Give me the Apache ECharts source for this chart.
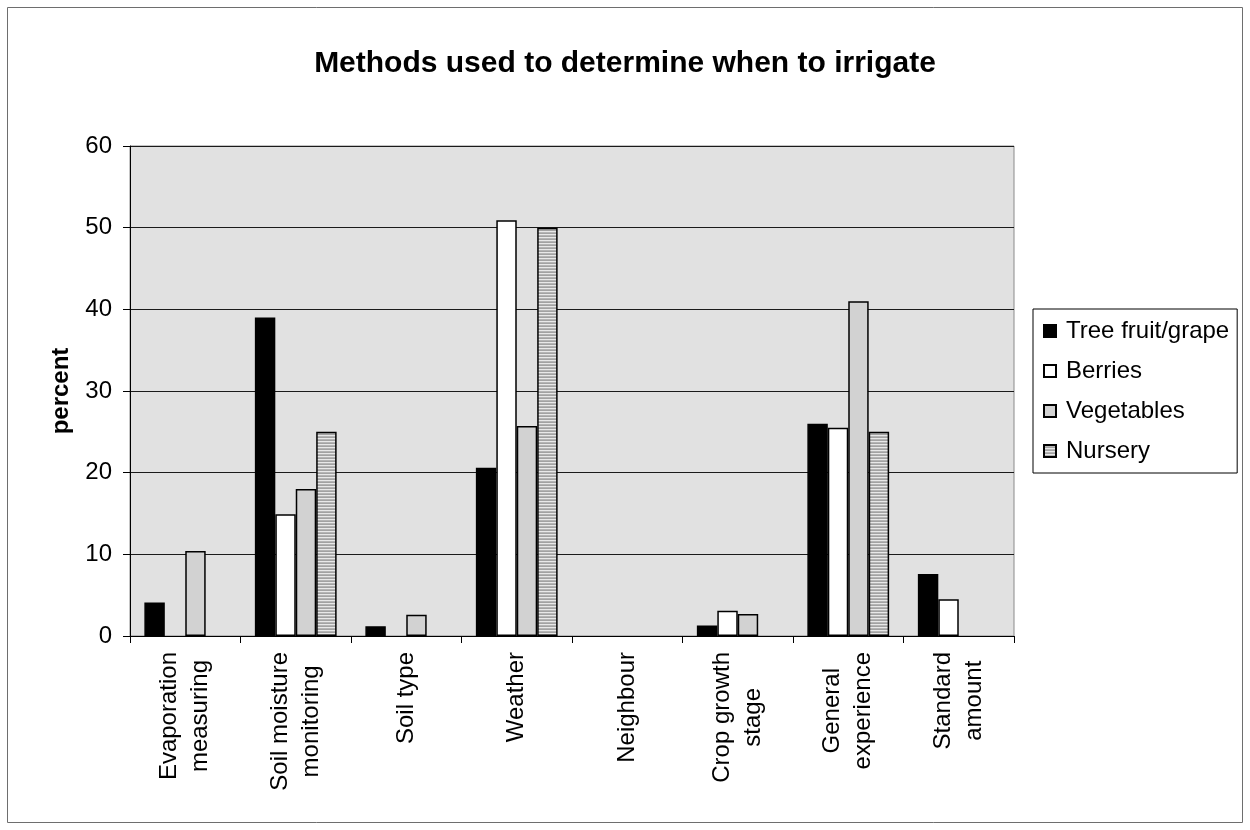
<!DOCTYPE html>
<html>
<head>
<meta charset="utf-8">
<script src="https://cdn.jsdelivr.net/npm/echarts@6/dist/echarts.min.js"></script>
<style>
  html, body { margin: 0; padding: 0; background: #fff; }
  #chart { width: 1250px; height: 830px; }
</style>
</head>
<body>
<div id="chart"></div>
<script>
// Survey results: share of growers (percent) using each method to decide when to irrigate
const categories = [
  'Evaporation\nmeasuring',
  'Soil moisture\nmonitoring',
  'Soil type',
  'Weather',
  'Neighbour',
  'Crop growth\nstage',
  'General\nexperience',
  'Standard\namount'
];
const seriesNames = ['Tree fruit/grape', 'Berries', 'Vegetables', 'Nursery'];
const treeFruit  = [4.1, 39.0, 1.2, 20.6, 0, 1.3, 26.0, 7.6];
const berries    = [0, 14.9, 0, 50.9, 0, 3.1, 25.5, 4.5];
const vegetables = [10.4, 18.0, 2.6, 25.7, 0, 2.7, 41.0, 0];
const nursery    = [0, 25.0, 0, 50.0, 0, 0, 25.0, 0];
const yTicks = { min: 0, max: 60, interval: 10 };

const FONT = '"Liberation Sans", Arial, sans-serif';

// Horizontal hatch fill for the nursery bars
function stripePattern() {
  const c = document.createElement('canvas');
  c.width = 4; c.height = 3;
  const g = c.getContext('2d');
  g.fillStyle = '#e8e8e8'; g.fillRect(0, 0, 4, 1);
  g.fillStyle = '#b4b4b4'; g.fillRect(0, 1, 4, 1);
  g.fillStyle = '#a2a2a2'; g.fillRect(0, 2, 4, 1);
  return { image: c, repeat: 'repeat' };
}

const fills = ['#000000', '#ffffff', '#d2d2d2', stripePattern()];
const values = [treeFruit, berries, vegetables, nursery];

// Zero values get no outline so nothing is drawn for them
const toBarData = (arr) => arr.map(v => v === 0 ? { value: 0, itemStyle: { borderWidth: 0, opacity: 0 } } : v);

const chart = echarts.init(document.getElementById('chart'), null, { renderer: 'canvas' });

chart.setOption({
  animation: false,
  backgroundColor: '#ffffff',
  textStyle: { fontFamily: FONT },
  title: {
    text: 'Methods used to determine when to irrigate',
    left: 'center',
    top: 44,
    textStyle: { fontFamily: FONT, fontSize: 30, fontWeight: 'bold', color: '#000' }
  },
  graphic: [{
    type: 'rect',
    shape: { x: 7.5, y: 7.5, width: 1235, height: 815 },
    style: { fill: 'none', stroke: '#6e6e6e', lineWidth: 1 },
    silent: true,
    z: -1
  }],
  legend: {
    orient: 'vertical',
    left: 1033,
    top: 309,
    data: seriesNames,
    icon: 'rect',
    itemWidth: 12,
    itemHeight: 12,
    itemGap: 16,
    padding: [10, 8, 10, 10],
    borderColor: '#000',
    borderWidth: 1,
    backgroundColor: '#fff',
    textStyle: { fontFamily: FONT, fontSize: 24, color: '#000', padding: [0, 0, 0, 5] }
  },
  grid: {
    left: 130,
    right: 236,
    top: 146,
    bottom: 194,
    show: true,
    backgroundColor: '#e1e1e1',
    borderColor: '#8a8a8a',
    borderWidth: 1
  },
  xAxis: {
    type: 'category',
    data: categories,
    axisLine: { lineStyle: { color: '#000', width: 1 } },
    axisTick: { show: true, length: 7, lineStyle: { color: '#000' } },
    axisLabel: {
      interval: 0,
      rotate: 90,
      margin: 16,
      formatter: (v) => v.split('\n').map(s => '{c|' + s + '}').join('\n'),
      rich: {
        c: { align: 'center', fontFamily: FONT, fontSize: 24, color: '#000', lineHeight: 31 }
      }
    }
  },
  yAxis: {
    type: 'value',
    min: yTicks.min,
    max: yTicks.max,
    interval: yTicks.interval,
    name: 'percent',
    nameLocation: 'middle',
    nameRotate: 90,
    nameGap: 57,
    nameTextStyle: { fontFamily: FONT, fontSize: 24, fontWeight: 'bold', color: '#000' },
    axisLine: { show: true, lineStyle: { color: '#000', width: 1 } },
    axisTick: { show: true, length: 7, lineStyle: { color: '#000' } },
    axisLabel: { fontFamily: FONT, fontSize: 24, color: '#000', margin: 18 },
    splitLine: { show: true, lineStyle: { color: '#1a1a1a', width: 1 } }
  },
  series: seriesNames.map((name, i) => ({
    name,
    type: 'bar',
    data: toBarData(values[i]),
    barGap: '0%',
    barCategoryGap: '26%',
    itemStyle: { color: fills[i], borderColor: '#000', borderWidth: 1.5 }
  }))
});
</script>
</body>
</html>
